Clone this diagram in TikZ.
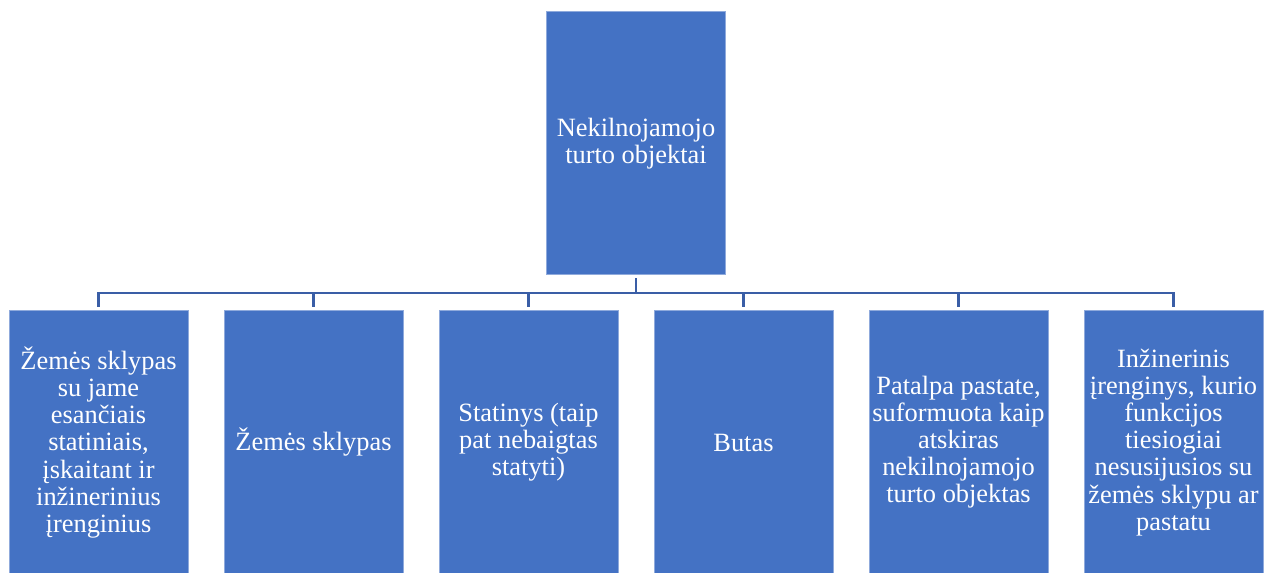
\documentclass[tikz,border=0pt]{standalone}
\usepackage{fontspec}
\setmainfont{Liberation Serif}
\usepackage{tikz}
\usetikzlibrary{positioning, calc}
\definecolor{ntblue}{HTML}{4472C4}
\definecolor{ntedge}{HTML}{8FAADC}
\definecolor{ntline}{HTML}{3A5EA6}
\definecolor{ntwhite}{HTML}{FFFFFF}
\begin{document}
\begin{tikzpicture}[x=0.75pt, y=-0.75pt,
    font=\fontsize{19.8}{20.3}\selectfont,
    objbox/.style={draw=ntedge, fill=ntblue, line width=0.75pt, text=ntwhite,
          minimum width=134.25pt, minimum height=197.5pt, align=center, inner sep=0pt},
    tree/.style={draw=ntline, line width=1.6pt, shorten <=2.25pt, shorten >=2.25pt}]
    \useasboundingbox (0,0) rectangle (1264,572);
    \node[objbox] (obj) at (636,143.25) {Nekilnojamojo\\turto objektai};
    \node[objbox] (sklstat) at (98.5,442.5)
          {Žemės sklypas\\su jame\\esančiais\\statiniais,\\įskaitant ir\\inžinerinius\\įrenginius};
    \node[objbox] (skl) at (313.5,442.5) {Žemės sklypas};
    \node[objbox] (stat) at (528.5,442.5) {Statinys (taip\\pat nebaigtas\\statyti)};
    \node[objbox] (butas) at (743.5,442.5) {Butas};
    \node[objbox] (patalpa) at (958.5,442.5)
          {Patalpa pastate,\\suformuota kaip\\atskiras\\nekilnojamojo\\turto objektas};
    \node[objbox] (ireng) at (1173.5,442.5)
          {Inžinerinis\\įrenginys, kurio\\funkcijos\\tiesiogiai\\nesusijusios su\\žemės sklypu ar\\pastatu};
    \coordinate (bus) at (636,293);
    \draw[tree] (obj.south) -- (obj.south |- bus) -| (sklstat.north);
    \draw[tree] (obj.south) -- (obj.south |- bus) -| (skl.north);
    \draw[tree] (obj.south) -- (obj.south |- bus) -| (stat.north);
    \draw[tree] (obj.south) -- (obj.south |- bus) -| (butas.north);
    \draw[tree] (obj.south) -- (obj.south |- bus) -| (patalpa.north);
    \draw[tree] (obj.south) -- (obj.south |- bus) -| (ireng.north);
\end{tikzpicture}
\end{document}
